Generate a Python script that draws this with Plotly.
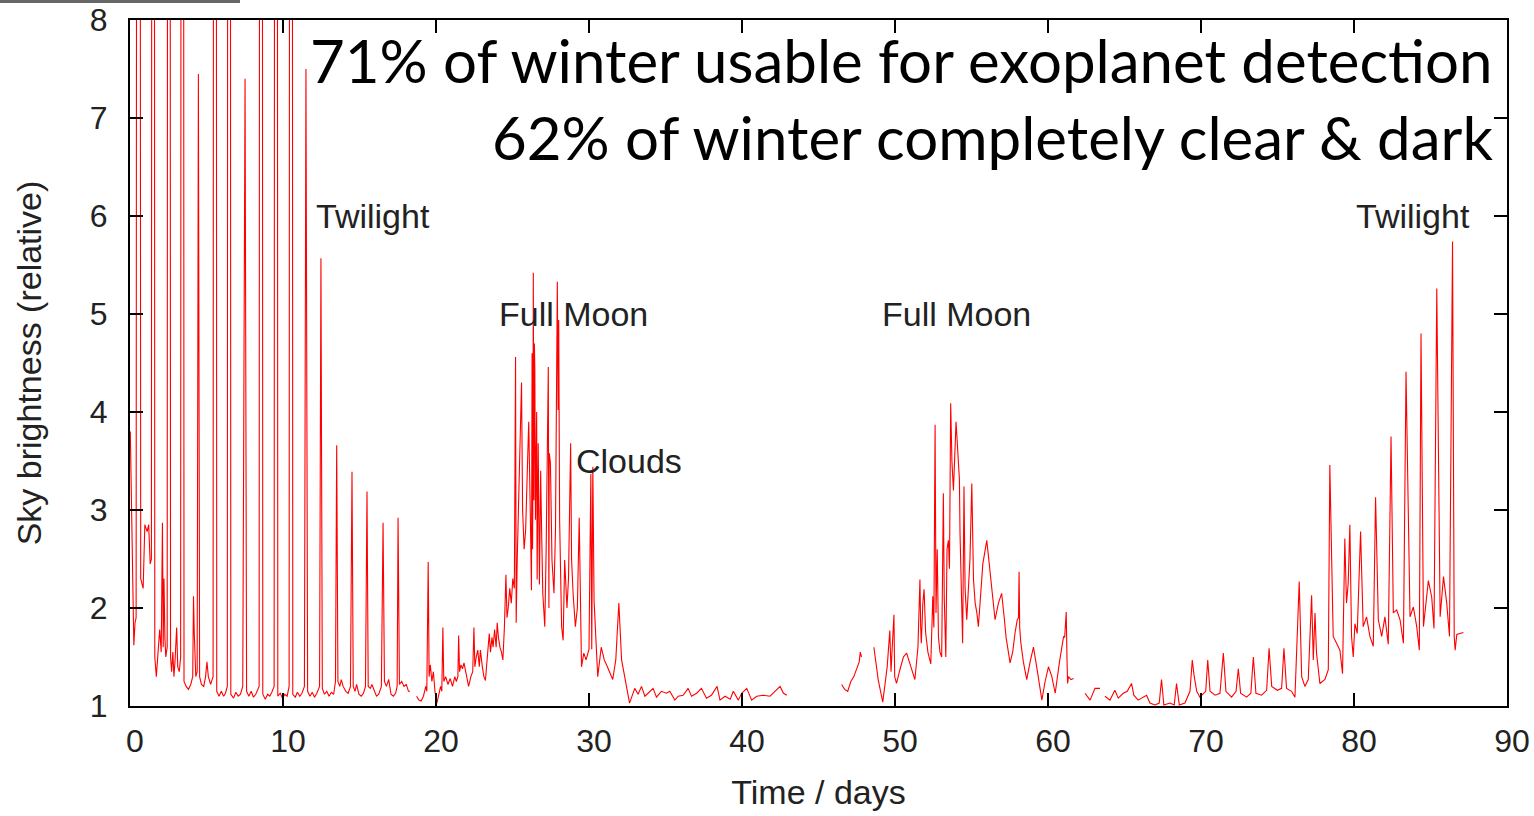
import plotly.graph_objects as go

# ---------------- data ----------------
days_a = [0.02, 0.25, 0.33, 0.40, 0.55, 0.70, 0.86, 0.97, 1.12, 1.22, 1.32, 1.40, 1.51, 1.62, 1.72, 1.82, 1.94, 2.04, 2.12, 2.17,
          2.22, 2.28, 2.34, 2.43, 2.54, 2.65, 2.72, 2.80, 2.87, 2.94, 3.05, 3.12, 3.22, 3.31, 3.42, 3.53, 3.67, 3.82, 3.97, 4.10,
          4.15, 4.20, 4.30, 4.39, 4.47, 4.55, 4.67, 4.82, 4.94, 5.03, 5.12, 5.27, 5.43, 5.55, 5.67, 5.82, 5.97, 6.12, 6.24, 6.36,
          6.47, 6.59, 6.77, 6.92, 7.07, 7.22, 7.37, 7.52, 7.62, 7.77, 7.92, 8.07, 8.22, 8.44, 8.56, 8.68, 8.84, 9.00, 9.14, 9.27,
          9.42, 9.54, 9.66, 9.82, 9.97, 10.12, 10.27, 10.40, 10.52, 10.64, 10.80, 10.94, 11.10, 11.24, 11.40, 11.50, 11.61, 11.76, 11.91, 12.06,
          12.21, 12.39, 12.48, 12.57, 12.71, 12.86, 13.01, 13.16, 13.31, 13.43, 13.51, 13.59, 13.71, 13.81, 13.93, 14.11, 14.26, 14.41, 14.51, 14.59,
          14.71, 14.81, 14.96, 15.11, 15.26, 15.39, 15.49, 15.57, 15.71, 15.81, 15.96, 16.11, 16.26, 16.43, 16.54, 16.63, 16.76, 16.91, 17.06, 17.21,
          17.36, 17.46, 17.52, 17.61, 17.76, 17.91, 18.06, 18.20, 18.30]
sky_a = [3.80, 1.62, 1.85, 1.90, 40.0, 2.30, 2.20, 2.85, 2.78, 2.85, 2.45, 2.50, 40.0, 1.50, 1.30, 1.55, 1.78, 1.55, 2.87, 1.60,
         2.30, 1.70, 1.50, 1.60, 40.0, 1.50, 1.35, 1.55, 1.30, 1.45, 1.80, 1.40, 1.35, 1.50, 40.0, 1.25, 1.20, 1.17, 1.22, 1.30,
         2.12, 1.75, 1.30, 1.35, 7.45, 1.30, 1.22, 1.20, 1.30, 1.45, 1.30, 1.22, 1.30, 40.0, 1.15, 1.10, 1.15, 1.10, 1.13, 1.20,
         40.0, 1.12, 1.08, 1.14, 1.10, 1.12, 1.20, 7.40, 1.15, 1.10, 1.15, 1.09, 1.12, 1.20, 40.0, 1.12, 1.07, 1.12, 1.10, 1.14,
         1.20, 40.0, 1.10, 1.13, 1.08, 1.12, 1.10, 1.20, 40.0, 1.12, 1.09, 1.14, 1.10, 1.13, 1.20, 7.50, 1.15, 1.10, 1.14, 1.09,
         1.13, 1.20, 5.57, 1.18, 1.12, 1.15, 1.10, 1.14, 1.12, 1.25, 3.66, 1.25, 1.20, 1.27, 1.20, 1.15, 1.13, 1.20, 3.39, 1.20,
         1.15, 1.22, 1.12, 1.10, 1.13, 1.20, 3.19, 1.20, 1.18, 1.22, 1.15, 1.10, 1.12, 1.20, 2.87, 1.25, 1.20, 1.27, 1.12, 1.10,
         1.13, 1.20, 2.92, 1.22, 1.25, 1.20, 1.22, 1.15, 1.15]

days_b = [18.73, 18.88, 19.03, 19.18, 19.33, 19.40, 19.49, 19.55, 19.63, 19.73, 19.83, 19.93, 20.06, 20.18, 20.30, 20.38, 20.45, 20.51, 20.63, 20.78,
          20.93, 21.08, 21.23, 21.33, 21.43, 21.48, 21.54, 21.63, 21.73, 21.83, 21.98, 22.13, 22.28, 22.40, 22.48, 22.54, 22.63, 22.73, 22.83, 22.90,
          23.03, 23.13, 23.23, 23.33, 23.40, 23.48, 23.56, 23.66, 23.73, 23.83, 23.93, 24.00, 24.08, 24.18, 24.28, 24.37, 24.47, 24.57, 24.64, 24.72,
          24.82, 24.92, 25.02, 25.12, 25.20, 25.24, 25.31, 25.41, 25.59, 25.66, 25.76, 25.86, 25.96, 26.06, 26.16, 26.24, 26.28, 26.31, 26.34, 26.36,
          26.40, 26.43, 26.46, 26.50, 26.52, 26.58, 26.61, 26.68, 26.76, 26.84, 26.91, 26.98, 27.11, 27.20, 27.34, 27.38, 27.40, 27.48, 27.58, 27.71,
          27.81, 27.93, 27.98, 28.02, 28.08, 28.21, 28.31, 28.41, 28.56, 28.66, 28.80, 28.86, 28.96, 29.11, 29.24, 29.36, 29.42, 29.51, 29.66, 29.81,
          30.00, 30.12, 30.18, 30.25, 30.33, 30.47, 30.57, 30.80, 31.00, 31.20, 31.55, 31.75, 31.95, 32.13, 32.35, 32.65, 32.99, 33.21, 33.43, 33.65,
          33.86, 34.19, 34.41, 34.73, 35.06, 35.28, 35.61, 35.83, 36.15, 36.48, 36.70, 37.03, 37.35, 37.68, 38.00, 38.37, 38.56, 38.89, 39.23, 39.43,
          39.76, 39.98, 40.31, 40.63, 40.96, 41.39, 41.83, 42.16, 42.49, 42.71, 42.93]
sky_b = [1.10, 1.06, 1.05, 1.10, 1.20, 1.15, 2.47, 1.30, 1.42, 1.25, 1.35, 1.15, 1.03, 1.10, 1.20, 1.15, 1.80, 1.25, 1.30, 1.22,
         1.28, 1.20, 1.30, 1.25, 1.30, 1.72, 1.35, 1.42, 1.38, 1.44, 1.30, 1.20, 1.30, 1.35, 1.80, 1.40, 1.50, 1.57, 1.40, 1.57,
         1.40, 1.30, 1.26, 1.45, 1.50, 1.74, 1.55, 1.70, 1.60, 1.78, 1.60, 1.85, 1.70, 1.60, 1.55, 1.47, 1.80, 2.34, 1.90, 2.00,
         2.20, 2.05, 2.30, 2.20, 4.56, 1.85, 2.50, 3.10, 4.30, 3.00, 2.60, 2.80, 3.30, 3.90, 3.00, 2.18, 4.60, 2.60, 3.50, 5.42,
         3.10, 4.70, 4.43, 2.90, 3.17, 4.00, 2.29, 3.68, 2.24, 3.40, 2.72, 2.15, 1.81, 2.60, 4.46, 2.00, 3.58, 3.48, 2.49, 2.15,
         2.80, 5.33, 4.02, 4.94, 2.90, 1.81, 1.67, 2.49, 2.00, 2.30, 3.68, 2.50, 2.15, 1.81, 2.00, 2.92, 2.40, 1.40, 1.54, 1.47,
         1.58, 3.37, 1.58, 3.44, 2.08, 1.58, 1.30, 1.60, 1.47, 1.40, 1.27, 1.47, 2.05, 1.47, 1.30, 1.03, 1.18, 1.12, 1.20, 1.10,
         1.13, 1.18, 1.09, 1.15, 1.13, 1.15, 1.06, 1.10, 1.11, 1.18, 1.10, 1.13, 1.18, 1.08, 1.11, 1.20, 1.06, 1.10, 1.07, 1.15,
         1.06, 1.13, 1.18, 1.06, 1.10, 1.11, 1.10, 1.15, 1.20, 1.13, 1.11]

days_c = [46.51, 46.71, 46.91, 47.11, 47.31, 47.51, 47.66, 47.73, 47.81]
sky_c = [1.22, 1.17, 1.15, 1.25, 1.30, 1.38, 1.45, 1.55, 1.50]

days_d = [48.62, 48.90, 49.20, 49.49, 49.66, 49.74, 49.82, 49.93, 49.98, 50.10, 50.32, 50.55, 50.76, 51.05, 51.30, 51.50, 51.63, 51.68, 51.72, 51.82,
          51.90, 52.00, 52.15, 52.34, 52.47, 52.54, 52.62, 52.68, 52.76, 52.84, 52.94, 53.05, 53.16, 53.22, 53.32, 53.40, 53.49, 53.56, 53.64, 53.72,
          53.82, 53.99, 54.10, 54.21, 54.25, 54.35, 54.42, 54.51, 54.58, 54.69, 54.80, 54.90, 55.02, 55.08, 55.13, 55.24, 55.35, 55.45, 55.60, 55.74,
          56.00, 56.25, 56.54, 56.76, 56.97, 57.14, 57.26, 57.52, 57.69, 57.85, 57.99, 58.07, 58.11, 58.15, 58.22, 58.39, 58.61, 58.83, 59.05, 59.31,
          59.60, 59.81, 60.03, 60.25, 60.47, 60.75, 61.02, 61.09, 61.19, 61.24, 61.28, 61.34, 61.50, 61.67]
sky_d = [1.60, 1.27, 1.04, 1.40, 1.77, 1.35, 1.60, 1.93, 1.30, 1.23, 1.37, 1.50, 1.54, 1.38, 1.27, 1.60, 2.29, 1.80, 1.64, 2.05,
         2.19, 1.75, 1.55, 1.43, 2.12, 1.80, 3.87, 1.95, 2.60, 1.70, 1.55, 1.50, 3.17, 2.10, 1.50, 2.60, 2.69, 2.40, 4.09, 3.50,
         3.20, 3.90, 3.55, 3.31, 2.76, 2.00, 1.64, 3.24, 2.20, 1.88, 2.30, 2.50, 3.27, 2.50, 2.29, 2.05, 1.95, 1.81, 2.10, 2.45,
         2.69, 2.30, 1.88, 2.05, 2.15, 1.90, 1.70, 1.44, 1.55, 1.75, 1.88, 1.90, 2.37, 1.80, 1.65, 1.45, 1.27, 1.45, 1.60, 1.35,
         1.06, 1.25, 1.40, 1.30, 1.13, 1.45, 1.71, 1.70, 1.96, 1.50, 1.23, 1.30, 1.27, 1.28]

days_e = [62.42, 62.75, 63.07, 63.40, None, 63.72, 64.05, 64.37, 64.59, 64.92, 65.18, 65.46, 65.61, 65.89, 66.22, 66.44, 66.66, 66.99, 67.27, 67.42,
          67.57, 67.97, 68.25, 68.40, 68.58, 68.95, 69.28, 69.43, 69.54, 69.72, 69.93, 70.31, 70.44, 70.59, 70.92, 71.24, 71.46, 71.63, 72.00, 72.29,
          72.44, 72.59, 72.98, 73.26, 73.42, 73.59, 73.96, 74.29, 74.45, 74.62, 74.99, 75.27, 75.42, 75.59, 75.92, 76.14, 76.42, 76.58, 76.79, 77.01,
          77.23, 77.34, 77.45, 77.55, 77.77, 78.10, 78.32, 78.42, 78.64, 78.86, 79.08, 79.25, 79.40, 79.51, 79.62, 79.73, 79.84, 79.95, 80.06, 80.21,
          80.43, 80.60, 80.82, 81.04, 81.26, 81.41, 81.59, 81.81, 82.02, 82.24, 82.42, 82.57, 82.79, 83.01, 83.23, 83.40, 83.66, 83.88, 84.10, 84.27,
          84.38, 84.54, 84.86, 85.08, 85.23, 85.41, 85.63, 85.85, 86.06, 86.24, 86.44, 86.55, 86.61, 86.72, 87.15]
sky_e = [1.13, 1.06, 1.18, 1.18, None, 1.10, 1.06, 1.16, 1.08, 1.13, 1.15, 1.23, 1.11, 1.06, 1.09, 1.11, 1.03, 1.01, 1.03, 1.27,
         1.01, 1.03, 1.01, 1.23, 1.01, 1.03, 1.15, 1.47, 1.32, 1.15, 1.09, 1.15, 1.47, 1.15, 1.11, 1.13, 1.54, 1.15, 1.09, 1.15,
         1.38, 1.13, 1.09, 1.13, 1.50, 1.13, 1.11, 1.16, 1.59, 1.20, 1.16, 1.18, 1.59, 1.18, 1.15, 1.09, 2.27, 1.30, 1.20, 1.27,
         2.13, 1.47, 1.95, 1.54, 1.23, 1.27, 1.37, 3.46, 1.71, 1.64, 1.57, 1.33, 2.71, 2.05, 2.25, 2.85, 1.71, 1.50, 1.84, 1.74,
         2.78, 1.81, 1.91, 1.71, 1.61, 3.13, 1.88, 1.71, 1.91, 1.63, 3.75, 1.95, 1.98, 1.88, 1.64, 4.41, 1.91, 2.01, 1.81, 1.57,
         4.80, 1.81, 2.28, 2.11, 1.79, 5.26, 1.91, 2.32, 2.05, 1.71, 5.74, 1.71, 1.57, 1.73, 1.75]

x_ticks = [0, 10, 20, 30, 40, 50, 60, 70, 80, 90]
y_ticks = [1, 2, 3, 4, 5, 6, 7, 8]

label_text = ["Twilight", "Full Moon", "Clouds", "Full Moon", "Twilight"]
label_day = [12, 24, 29, 49, 80]
label_sky = [6, 5, 3.5, 5, 6]

headline = ["71% of winter usable for exoplanet detection",
            "62% of winter completely clear & dark"]

# ---------------- figure ----------------
fig = go.Figure()
for dx, sy in [(days_a, sky_a), (days_b, sky_b), (days_c, sky_c), (days_d, sky_d), (days_e, sky_e)]:
    fig.add_trace(go.Scatter(x=dx, y=sy, mode="lines", connectgaps=False,
                             line=dict(color="#ff0000", width=1.1), showlegend=False,
                             hoverinfo="skip"))

tick_font = dict(family="Liberation Sans, Arial, sans-serif", size=32, color="#222222")
text_font = dict(family="Liberation Sans, Arial, sans-serif", size=34, color="#222222")

axis_common = dict(showline=True, linecolor="black", linewidth=2, mirror="ticks",
                   ticks="inside", ticklen=13, tickwidth=2, tickcolor="black",
                   showgrid=False, zeroline=False, tickfont=tick_font, automargin=False)

fig.update_layout(
    width=1534, height=816,
    margin=dict(l=130, r=27, t=20, b=110, autoexpand=False),
    paper_bgcolor="white", plot_bgcolor="white",
    modebar=dict(remove=["zoom", "pan", "select", "lasso", "zoomIn", "zoomOut", "autoScale", "resetScale", "toImage"]),
    xaxis=dict(range=[0, 90], tickvals=x_ticks, ticklabelshift=5, ticklabelstandoff=6,
               title=dict(text="Time / days", font=text_font, standoff=22), **axis_common),
    yaxis=dict(range=[1, 8], tickvals=y_ticks, ticklabelstandoff=14,
               title=dict(text="Sky brightness (relative)", font=text_font, standoff=38), **axis_common),
)

for t, xd, yd in zip(label_text, label_day, label_sky):
    fig.add_annotation(x=xd, y=yd, text=t, showarrow=False, xanchor="left", yanchor="middle",
                       font=text_font)

fig.add_annotation(xref="paper", yref="paper", x=0.9913, y=0.9417, text=headline[0], showarrow=False,
                   xanchor="right", yanchor="middle",
                   font=dict(family="Lato, sans-serif", size=60, color="black"))
fig.add_annotation(xref="paper", yref="paper", x=0.9913, y=0.8294, text=headline[1], showarrow=False,
                   xanchor="right", yanchor="middle",
                   font=dict(family="Lato, sans-serif", size=60, color="black"))

fig.add_shape(type="line", xref="paper", yref="paper", x0=-0.0944, x1=0.0799, y0=1.027, y1=1.027,
              line=dict(color="#666666", width=3))

fig.write_html("out.html", config={"displayModeBar": False},
               post_script="document.body.style.margin='0';")
